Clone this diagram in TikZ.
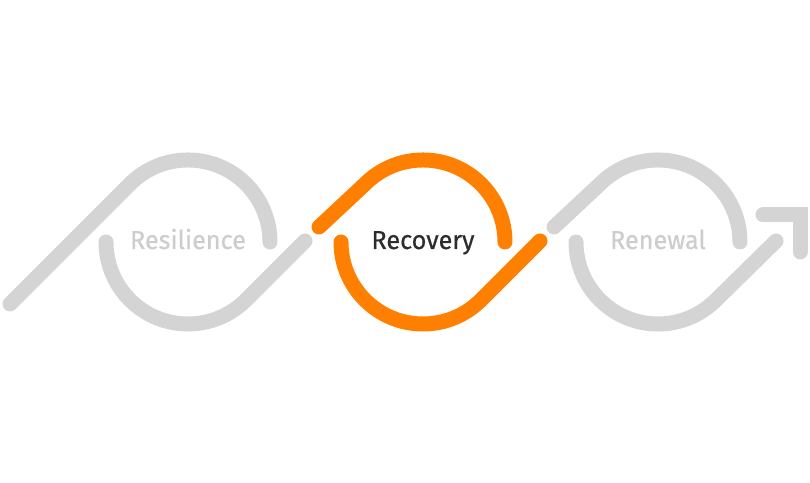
\documentclass[tikz,border=0pt]{standalone}
\usepackage{fontspec}
\setmainfont{Fira Sans}[FakeStretch=0.97, FakeBold=0.5]
\usepackage{tikz}
\usetikzlibrary{shapes, arrows, positioning}
\definecolor{loopgrey}{RGB}{212,212,212}
\definecolor{looporange}{RGB}{255,127,0}
\definecolor{labelgrey}{RGB}{205,205,205}
\definecolor{labeldark}{RGB}{45,45,45}
\tikzstyle{gline} = [draw=loopgrey, line width=11.25pt, line cap=round]
\tikzstyle{oline} = [draw=looporange, line width=11.25pt, line cap=round]
\tikzstyle{glabel} = [font=\fontsize{19.5}{24}\selectfont, text=labelgrey, anchor=base]
\tikzstyle{dlabel} = [font=\fontsize{19.5}{24}\selectfont, text=labeldark, anchor=base]

\begin{document}
\begin{tikzpicture}[x=0.75pt, y=0.75pt]
			\useasboundingbox (0,0) rectangle (810,482);
			\node [glabel] (res) at (188, 233) {Resilience};
			\node [dlabel] (rec) at (423, 233) {Recovery};
			\node [glabel] (ren) at (658, 233) {Renewal};
			
			\path [gline] (10,178) -- (130,298) arc [start angle=135, end angle=0, radius=61.5pt];
			\path [gline] (106,240) arc [start angle=180, end angle=315, radius=61.5pt] -- (305,241);
			\path [oline] (319,255) -- (365,298) arc [start angle=135, end angle=0, radius=61.5pt];
			\path [oline] (341,240) arc [start angle=180, end angle=315, radius=61.5pt] -- (540,241);
			\path [gline] (554,255) -- (600,298) arc [start angle=135, end angle=0, radius=61.5pt];
			\path [gline] (576,240) arc [start angle=180, end angle=315, radius=61.5pt] -- (776,241);
			\path [gline, line join=miter] (763,267) -- (800,267) -- (800,230);
		\end{tikzpicture}
\end{document}
